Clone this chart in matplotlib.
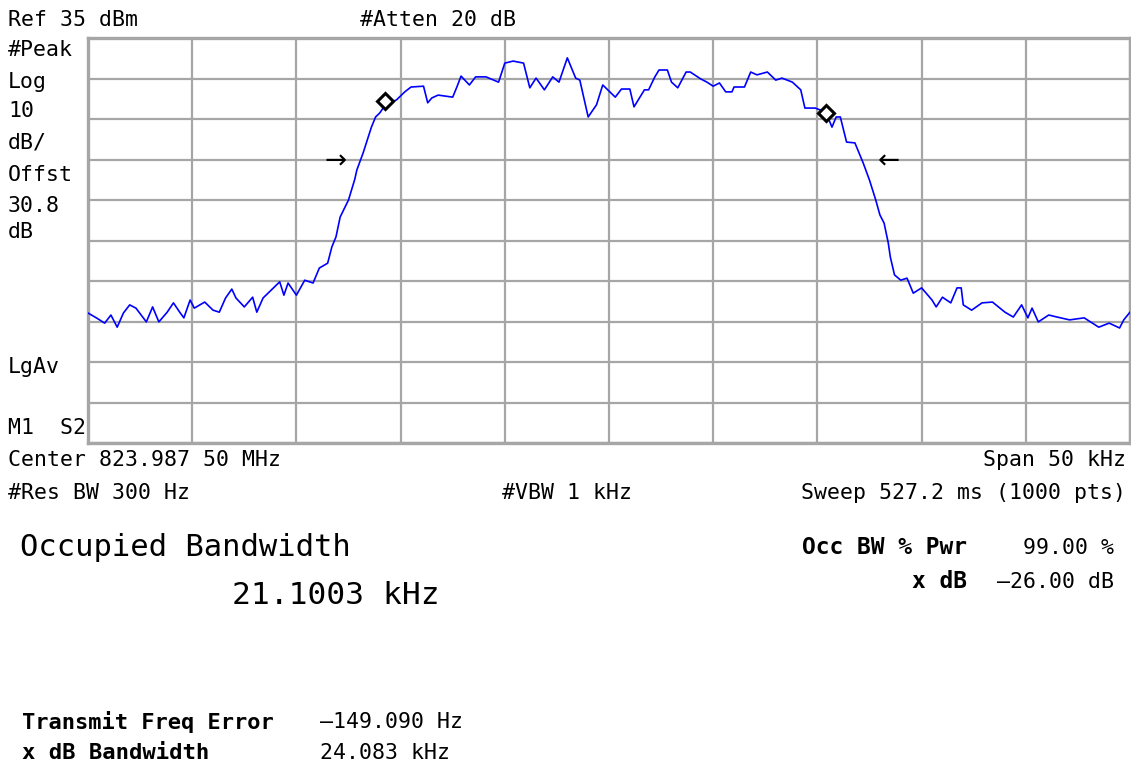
import numpy as np
import matplotlib.pyplot as plt

# trace: offset from center (kHz) and level (dBm)
freq_khz = [-25.0, -24.6, -24.2, -23.9, -23.6, -23.3, -23.0, -22.7, -22.2, -21.9,
            -21.6, -21.2, -20.9, -20.6, -20.4, -20.1, -19.9, -19.4, -19.0, -18.7,
            -18.4, -18.1, -17.9, -17.5, -17.1, -16.9, -16.6, -16.2, -15.8, -15.6,
            -15.4, -15.0, -14.6, -14.2, -13.9, -13.5, -13.3, -13.1, -12.9, -12.5,
            -12.2, -12.1, -11.8, -11.4, -11.2, -11.0, -10.7, -10.2, -9.8, -9.5,
            -8.9, -8.7, -8.5, -8.2, -7.5, -7.3, -7.1, -6.7, -6.4, -5.9,
            -5.3, -5.0, -4.6, -4.1, -3.8, -3.5, -3.1, -2.7, -2.4, -2.0,
            -1.6, -1.4, -1.0, -0.6, -0.3, 0.3, 0.6, 1.0, 1.2, 1.7,
            1.9, 2.2, 2.4, 2.8, 3.0, 3.3, 3.7, 3.9, 4.4, 4.7,
            5.0, 5.3, 5.6, 5.9, 6.0, 6.5, 6.8, 7.1, 7.6, 8.0,
            8.3, 8.8, 9.2, 9.4, 9.9, 10.4, 10.7, 10.9, 11.1, 11.4,
            11.8, 12.0, 12.2, 12.5, 12.8, 13.0, 13.2, 13.4, 13.5, 13.7,
            14.0, 14.3, 14.6, 15.0, 15.5, 15.7, 16.0, 16.4, 16.7, 16.9,
            17.0, 17.4, 17.9, 18.4, 19.0, 19.4, 19.8, 20.1, 20.3, 20.6,
            21.1, 21.5, 22.1, 22.8, 23.5, 24.0, 24.5, 24.7, 25.0]
level_dbm = [-32.9, -34.1, -35.4, -33.4, -36.4, -32.9, -30.9, -31.7, -35.1, -31.4,
             -35.1, -32.7, -30.4, -32.7, -34.1, -29.7, -31.7, -30.2, -32.2, -32.7,
             -29.2, -27.0, -29.2, -31.4, -29.0, -32.7, -29.2, -27.2, -25.2, -28.5,
             -25.5, -28.5, -24.8, -25.5, -21.8, -20.6, -16.6, -14.1, -9.2, -5.0,
             0.1, 2.4, 6.6, 13.0, 15.5, 16.5, 18.7, 19.7, 21.7, 22.9,
             23.1, 19.0, 20.2, 20.9, 20.4, 22.9, 25.6, 23.4, 25.4, 25.4,
             24.1, 28.8, 29.3, 28.8, 22.7, 25.1, 22.2, 25.4, 24.1, 30.1,
             25.1, 24.6, 15.5, 18.5, 23.4, 20.4, 22.4, 22.4, 18.0, 22.2,
             22.2, 25.4, 27.1, 27.1, 24.1, 22.7, 26.6, 26.6, 24.9, 24.1,
             23.1, 23.9, 21.7, 21.7, 22.9, 22.9, 26.6, 25.9, 26.6, 24.6,
             25.1, 24.1, 22.2, 17.7, 17.7, 16.7, 13.0, 15.5, 15.5, 9.3,
             9.1, 6.6, 4.1, -0.1, -5.0, -8.7, -10.7, -15.6, -19.1, -23.5,
             -24.8, -24.3, -28.0, -26.7, -29.7, -31.4, -29.0, -30.4, -26.7, -26.7,
             -30.9, -32.2, -30.4, -30.2, -32.7, -33.9, -30.9, -34.1, -31.7, -35.1,
             -33.4, -33.9, -34.6, -34.1, -36.4, -35.4, -36.6, -34.6, -32.7]

# occupied bandwidth markers and x dB arrows
marker_khz = [-10.75, 10.4]
marker_dbm = [19.4, 16.5]
arrow_khz = [-13.1, 13.4]
arrow_dbm = [4.4, 4.4]

ref_level = 35
db_per_div = 10
span_khz = 50

W, H = 1131, 769
fig = plt.figure(figsize=(W / 100, H / 100), dpi=100)
ax = fig.add_axes([88 / W, 1 - 443 / H, (1130 - 88) / W, (443 - 38) / H])

ax.set_xlim(-span_khz / 2, span_khz / 2)
ax.set_ylim(ref_level - 10 * db_per_div, ref_level)
ax.set_xticks(np.arange(-span_khz / 2, span_khz / 2 + 1, span_khz / 10))
ax.set_yticks(np.arange(ref_level - 10 * db_per_div, ref_level + 1, db_per_div))
ax.grid(True, color='#a6a6a6', lw=1.6)
ax.tick_params(length=0, labelbottom=False, labelleft=False)
for s in ax.spines.values():
    s.set_color('#a6a6a6')
    s.set_linewidth(2.4)

ax.plot(freq_khz, level_dbm, color='#0000ff', lw=1.2, zorder=3)
ax.plot(marker_khz, marker_dbm, 'D', ms=8, mfc='white', mec='black', mew=2.2, zorder=4)
ax.text(arrow_khz[0], arrow_dbm[0], '→', ha='center', va='center', fontsize=19, zorder=4)
ax.text(arrow_khz[1], arrow_dbm[1], '←', ha='center', va='center', fontsize=19, zorder=4)

mono = 'DejaVu Sans Mono'


def put(x, y, s, size=15.5, ha='left', weight='normal'):
    fig.text(x / W, 1 - y / H, s, ha=ha, va='center', fontsize=size,
             family=mono, weight=weight)


put(8, 20, 'Ref 35 dBm')
put(360, 20, '#Atten 20 dB')
for y, s in [(50, '#Peak'), (82, 'Log'), (111, '10'), (143, 'dB/'), (175, 'Offst'),
             (206, '30.8'), (232, 'dB'), (367, 'LgAv'), (428, 'M1  S2')]:
    put(8, y, s)

put(8, 460, 'Center 823.987 50 MHz')
put(1126, 460, 'Span 50 kHz', ha='right')
put(8, 493, '#Res BW 300 Hz')
put(502, 493, '#VBW 1 kHz')
put(1126, 493, 'Sweep 527.2 ms (1000 pts)', ha='right')

put(20, 548, 'Occupied Bandwidth', size=22)
put(232, 595, '21.1003 kHz', size=22.5)
put(967, 548, 'Occ BW % Pwr', size=16.5, ha='right', weight='bold')
put(1114, 548, '99.00 %', ha='right')
put(967, 582, 'x dB', size=16.5, ha='right', weight='bold')
put(1114, 582, '–26.00 dB', ha='right')

put(22, 722, 'Transmit Freq Error', size=15.8, weight='bold')
put(320, 722, '–149.090 Hz')
put(22, 753, 'x dB Bandwidth', size=16, weight='bold')
put(320, 753, '24.083 kHz')

fig.savefig('out.png', dpi=100)
